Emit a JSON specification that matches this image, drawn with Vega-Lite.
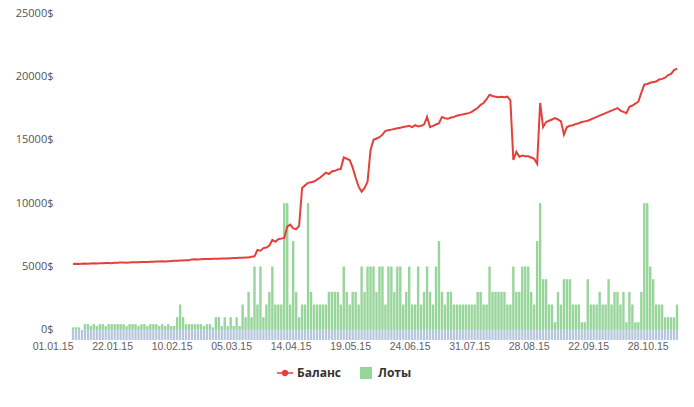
{
  "$schema": "https://vega.github.io/schema/vega-lite/v6.json",
  "width": 614,
  "height": 327,
  "autosize": "none",
  "padding": {"left": 68, "top": 13, "right": 12, "bottom": 67},
  "background": "#ffffff",
  "config": {"view": {"stroke": null}},
  "data": {"values": [
    {"i":0,"b":5200,"l":200},{"i":1,"b":5210,"l":200},{"i":2,"b":5190,"l":200},{"i":3,"b":5220,"l":0},{"i":4,"b":5230,"l":450},{"i":5,"b":5210,"l":450},{"i":6,"b":5240,"l":300},{"i":7,"b":5250,"l":450},{"i":8,"b":5230,"l":300},{"i":9,"b":5260,"l":450},
    {"i":10,"b":5250,"l":450},{"i":11,"b":5270,"l":300},{"i":12,"b":5280,"l":450},{"i":13,"b":5260,"l":450},{"i":14,"b":5300,"l":450},{"i":15,"b":5290,"l":450},{"i":16,"b":5310,"l":450},{"i":17,"b":5320,"l":450},{"i":18,"b":5300,"l":300},{"i":19,"b":5320,"l":450},
    {"i":20,"b":5330,"l":450},{"i":21,"b":5340,"l":450},{"i":22,"b":5330,"l":300},{"i":23,"b":5350,"l":450},{"i":24,"b":5360,"l":450},{"i":25,"b":5350,"l":300},{"i":26,"b":5370,"l":450},{"i":27,"b":5380,"l":450},{"i":28,"b":5390,"l":450},{"i":29,"b":5400,"l":300},
    {"i":30,"b":5410,"l":450},{"i":31,"b":5400,"l":300},{"i":32,"b":5420,"l":450},{"i":33,"b":5430,"l":300},{"i":34,"b":5450,"l":300},{"i":35,"b":5460,"l":1000},{"i":36,"b":5470,"l":2000},{"i":37,"b":5480,"l":1000},{"i":38,"b":5490,"l":450},{"i":39,"b":5500,"l":450},
    {"i":40,"b":5560,"l":450},{"i":41,"b":5570,"l":450},{"i":42,"b":5560,"l":450},{"i":43,"b":5580,"l":450},{"i":44,"b":5590,"l":300},{"i":45,"b":5600,"l":450},{"i":46,"b":5600,"l":450},{"i":47,"b":5610,"l":200},{"i":48,"b":5620,"l":1000},{"i":49,"b":5620,"l":1000},
    {"i":50,"b":5630,"l":300},{"i":51,"b":5640,"l":1000},{"i":52,"b":5640,"l":300},{"i":53,"b":5650,"l":1000},{"i":54,"b":5660,"l":300},{"i":55,"b":5670,"l":1000},{"i":56,"b":5680,"l":300},{"i":57,"b":5690,"l":2000},{"i":58,"b":5700,"l":1000},{"i":59,"b":5710,"l":3000},
    {"i":60,"b":5760,"l":1000},{"i":61,"b":5800,"l":5000},{"i":62,"b":6300,"l":2000},{"i":63,"b":6250,"l":5000},{"i":64,"b":6450,"l":1000},{"i":65,"b":6500,"l":2000},{"i":66,"b":6650,"l":3000},{"i":67,"b":7100,"l":5000},{"i":68,"b":6950,"l":2000},{"i":69,"b":7150,"l":2000},
    {"i":70,"b":7200,"l":2000},{"i":71,"b":7250,"l":10000},{"i":72,"b":8150,"l":10000},{"i":73,"b":8300,"l":2000},{"i":74,"b":8000,"l":7000},{"i":75,"b":7950,"l":3000},{"i":76,"b":8200,"l":1000},{"i":77,"b":11200,"l":2000},{"i":78,"b":11400,"l":2000},{"i":79,"b":11600,"l":10000},
    {"i":80,"b":11650,"l":3000},{"i":81,"b":11700,"l":2000},{"i":82,"b":11850,"l":2000},{"i":83,"b":12000,"l":2000},{"i":84,"b":12200,"l":2000},{"i":85,"b":12400,"l":2000},{"i":86,"b":12300,"l":3000},{"i":87,"b":12500,"l":3000},{"i":88,"b":12550,"l":3000},{"i":89,"b":12650,"l":3000},
    {"i":90,"b":12700,"l":2000},{"i":91,"b":13600,"l":5000},{"i":92,"b":13500,"l":3000},{"i":93,"b":13400,"l":2000},{"i":94,"b":12800,"l":3000},{"i":95,"b":12000,"l":3000},{"i":96,"b":11300,"l":2000},{"i":97,"b":10900,"l":5000},{"i":98,"b":11200,"l":3000},{"i":99,"b":11700,"l":5000},
    {"i":100,"b":14200,"l":5000},{"i":101,"b":15000,"l":5000},{"i":102,"b":15100,"l":3000},{"i":103,"b":15200,"l":5000},{"i":104,"b":15400,"l":5000},{"i":105,"b":15700,"l":2000},{"i":106,"b":15750,"l":5000},{"i":107,"b":15800,"l":5000},{"i":108,"b":15850,"l":3000},{"i":109,"b":15900,"l":5000},
    {"i":110,"b":15950,"l":5000},{"i":111,"b":16000,"l":2000},{"i":112,"b":16050,"l":3000},{"i":113,"b":16100,"l":5000},{"i":114,"b":16000,"l":2000},{"i":115,"b":16150,"l":2000},{"i":116,"b":16050,"l":5000},{"i":117,"b":16100,"l":2000},{"i":118,"b":16200,"l":3000},{"i":119,"b":16800,"l":5000},
    {"i":120,"b":16000,"l":3000},{"i":121,"b":16100,"l":2000},{"i":122,"b":16200,"l":5000},{"i":123,"b":16300,"l":7000},{"i":124,"b":16800,"l":3000},{"i":125,"b":16700,"l":2000},{"i":126,"b":16650,"l":3000},{"i":127,"b":16750,"l":3000},{"i":128,"b":16800,"l":2000},{"i":129,"b":16900,"l":2000},
    {"i":130,"b":16950,"l":2000},{"i":131,"b":17000,"l":2000},{"i":132,"b":17050,"l":2000},{"i":133,"b":17100,"l":2000},{"i":134,"b":17200,"l":2000},{"i":135,"b":17350,"l":2000},{"i":136,"b":17500,"l":3000},{"i":137,"b":17750,"l":3000},{"i":138,"b":17900,"l":2000},{"i":139,"b":18200,"l":2000},
    {"i":140,"b":18550,"l":5000},{"i":141,"b":18450,"l":3000},{"i":142,"b":18400,"l":3000},{"i":143,"b":18350,"l":3000},{"i":144,"b":18400,"l":3000},{"i":145,"b":18350,"l":3000},{"i":146,"b":18400,"l":2000},{"i":147,"b":18100,"l":2000},{"i":148,"b":13400,"l":5000},{"i":149,"b":14050,"l":3000},
    {"i":150,"b":13650,"l":3000},{"i":151,"b":13750,"l":5000},{"i":152,"b":13700,"l":5000},{"i":153,"b":13700,"l":5000},{"i":154,"b":13600,"l":3000},{"i":155,"b":13500,"l":2000},{"i":156,"b":13100,"l":7000},{"i":157,"b":17900,"l":10000},{"i":158,"b":16000,"l":4000},{"i":159,"b":16400,"l":4000},
    {"i":160,"b":16500,"l":2000},{"i":161,"b":16600,"l":2000},{"i":162,"b":16700,"l":600},{"i":163,"b":16600,"l":3000},{"i":164,"b":16450,"l":2000},{"i":165,"b":15400,"l":4000},{"i":166,"b":16000,"l":4000},{"i":167,"b":16100,"l":4000},{"i":168,"b":16150,"l":2000},{"i":169,"b":16250,"l":2000},
    {"i":170,"b":16300,"l":2000},{"i":171,"b":16400,"l":600},{"i":172,"b":16450,"l":600},{"i":173,"b":16500,"l":4000},{"i":174,"b":16600,"l":2000},{"i":175,"b":16700,"l":2000},{"i":176,"b":16800,"l":2000},{"i":177,"b":16900,"l":3000},{"i":178,"b":17000,"l":2000},{"i":179,"b":17100,"l":2000},
    {"i":180,"b":17200,"l":4000},{"i":181,"b":17300,"l":2000},{"i":182,"b":17400,"l":3000},{"i":183,"b":17500,"l":3000},{"i":184,"b":17300,"l":2000},{"i":185,"b":17200,"l":3000},{"i":186,"b":17100,"l":600},{"i":187,"b":17600,"l":3000},{"i":188,"b":17700,"l":2000},{"i":189,"b":17850,"l":600},
    {"i":190,"b":18000,"l":600},{"i":191,"b":18700,"l":3000},{"i":192,"b":19350,"l":10000},{"i":193,"b":19400,"l":10000},{"i":194,"b":19500,"l":5000},{"i":195,"b":19550,"l":4000},{"i":196,"b":19600,"l":2000},{"i":197,"b":19750,"l":2000},{"i":198,"b":19800,"l":2000},{"i":199,"b":19900,"l":1000},
    {"i":200,"b":20100,"l":1000},{"i":201,"b":20200,"l":1000},{"i":202,"b":20500,"l":1000},{"i":203,"b":20600,"l":2000}
  ]},
  "encoding": {
    "x": {
      "field": "i", "type": "quantitative",
      "scale": {"domain": [0, 203], "nice": false, "zero": false},
      "axis": {
        "title": null, "grid": false, "domain": false, "ticks": false,
        "values": [0,20,40,60,80,100,120,140,160,180,200],
        "labelExpr": "{'0':'01.01.15','20':'22.01.15','40':'10.02.15','60':'05.03.15','80':'14.04.15','100':'19.05.15','120':'24.06.15','140':'31.07.15','160':'28.08.15','180':'22.09.15','200':'28.10.15'}[datum.value]",
        "labelAlign": "right", "labelBaseline": "top", "labelPadding": 1,
        "labelFont": "Liberation Sans", "labelFontSize": 10.5, "labelColor": "#606060",
        "labelOverlap": false, "labelBound": false, "labelFlush": false
      }
    }
  },
  "layer": [
    {
      "mark": {"type": "bar", "size": 2.2, "color": "#b6c6de", "clip": true},
      "encoding": {
        "y": {"datum": 0, "type": "quantitative",
          "scale": {"domain": [-800, 25000], "nice": false, "zero": false},
          "axis": {
            "title": null, "values": [0,5000,10000,15000,20000,25000],
            "labelExpr": "datum.value + '$'",
            "domain": false, "ticks": false, "labelPadding": 15,
            "gridColor": "#d8d8d8", "gridWidth": 1,
            "labelFont": "Open Sans", "labelFontSize": 11, "labelColor": "#555555"
          }
        },
        "y2": {"datum": -800}
      }
    },
    {
      "mark": {"type": "bar", "size": 2.4, "clip": true},
      "encoding": {
        "y": {"field": "l", "type": "quantitative"},
        "y2": {"datum": 0},
        "color": {"datum": "Лоты", "type": "nominal"}
      }
    },
    {
      "mark": {"type": "line", "strokeWidth": 2, "clip": true},
      "encoding": {
        "y": {"field": "b", "type": "quantitative"},
        "color": {"datum": "Баланс", "type": "nominal",
          "scale": {"domain": ["Баланс", "Лоты"], "range": ["#e4403a", "#98d59b"]},
          "legend": {
            "title": null, "orient": "none", "direction": "horizontal",
            "legendX": 211, "legendY": 354,
            "labelFont": "Open Sans", "labelFontWeight": "bold", "labelFontSize": 12, "labelColor": "#333333",
            "symbolSize": 144, "columnPadding": 18, "labelOffset": 6,
            "encode": {
              "symbols": {"update": {
                "shape": {"signal": "datum.value === 'Баланс' ? 'M-1.35,-0.14H1.35V0.14H-1.35Z M0.55,0A0.55,0.55,0,1,1,-0.55,0A0.55,0.55,0,1,1,0.55,0Z' : 'square'"},
                "fill": {"signal": "datum.value === 'Баланс' ? '#e4403a' : '#98d59b'"},
                "strokeWidth": {"value": 0},
                "opacity": {"value": 1}
              }}
            }
          }
        }
      }
    }
  ]
}
